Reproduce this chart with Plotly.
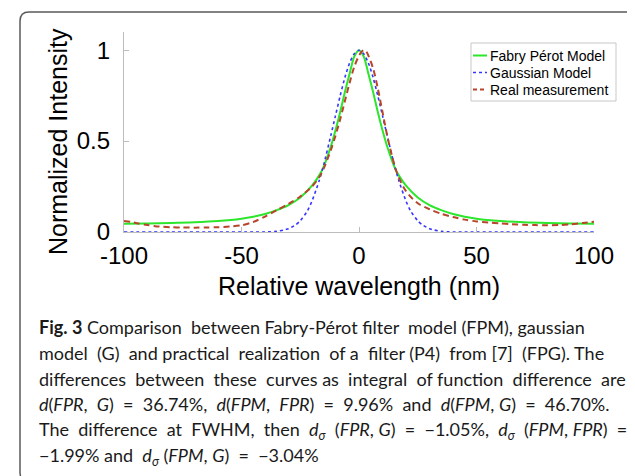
import plotly.graph_objects as go

# ---------------- data ----------------
fp_x = [-100, -90, -80, -70, -60, -50, -45, -40, -35, -30, -25, -20, -17, -15, -12, -10, -8, -6, -4, -2,
        0, 2, 4, 6, 8, 10, 12, 15, 17, 20, 25, 30, 35, 40, 45, 50, 60, 70, 80, 90, 100]
fp_y = [0.046, 0.047, 0.049, 0.053, 0.060, 0.073, 0.084, 0.099, 0.120, 0.148, 0.190, 0.255, 0.310, 0.360, 0.470,
        0.560, 0.660, 0.770, 0.870, 0.965, 1.000, 0.965, 0.870, 0.770, 0.660, 0.560, 0.470, 0.360, 0.310, 0.255,
        0.190, 0.148, 0.120, 0.099, 0.084, 0.073, 0.060, 0.053, 0.049, 0.047, 0.046]

g_x = [-100, -80, -60, -45, -40, -38, -35, -32, -30, -27, -25, -22, -20, -17, -15, -12, -10, -8, -6, -4, -2,
       0, 2, 4, 6, 8, 10, 12, 15, 17, 20, 22, 25, 27, 30, 32, 35, 38, 40, 45, 60, 80, 100]
g_y = [0.0, 0.0, 0.0, 0.0, 0.0, 0.001, 0.004, 0.011, 0.018, 0.039, 0.062, 0.115, 0.17, 0.28, 0.37, 0.53, 0.64,
       0.75, 0.85, 0.93, 0.98, 1.0, 0.98, 0.93, 0.85, 0.75, 0.64, 0.53, 0.37, 0.28, 0.17, 0.115, 0.062, 0.039,
       0.018, 0.011, 0.004, 0.001, 0.0, 0.0, 0.0, 0.0, 0.0]

rm_x = [-100, -97, -94, -90, -85, -80, -75, -70, -65, -60, -55, -50, -45, -40, -35, -30, -25, -20, -17, -15,
        -12, -10, -8, -6, -4, -2, 0, 1, 2, 3, 4, 6, 8, 10, 12, 14, 16, 18, 20, 23, 26, 30, 35, 40, 45, 50, 55,
        60, 65, 70, 75, 80, 85, 90, 95, 100]
rm_y = [0.060, 0.055, 0.047, 0.038, 0.030, 0.026, 0.025, 0.024, 0.025, 0.026, 0.030, 0.037, 0.055, 0.085,
        0.120, 0.155, 0.195, 0.250, 0.300, 0.350, 0.450, 0.530, 0.620, 0.720, 0.820, 0.910, 0.970, 0.990,
        1.000, 0.995, 0.970, 0.900, 0.790, 0.660, 0.530, 0.420, 0.330, 0.270, 0.225, 0.180, 0.150, 0.125,
        0.100, 0.082, 0.068, 0.058, 0.052, 0.047, 0.043, 0.040, 0.038, 0.037, 0.038, 0.042, 0.049, 0.057]

series_names = ["Fabry Pérot Model", "Gaussian Model", "Real measurement"]
x_ticks = [-100, -50, 0, 50, 100]
x_tick_labels = ["-100", "-50", "0", "50", "100"]
y_ticks = [0, 0.5, 1]
y_tick_labels = ["0", "0.5", "1"]

# "^" marks a widened (justified) word gap
caption_lines = [
    "<b>Fig. 3</b> Comparison^ between Fabry-Pérot filter^ model (FPM), gaussian",
    "model^ (G)^ and practical^ realization^ of a^ filter (P4)^ from [7]^ (FPG). The",
    "differences^ between^ these^ curves as^ integral^ of function^ difference^ are",
    "<i>d</i>(<i>FPR</i>,^ <i>G</i>)^ =^ 36.74%,^ <i>d</i>(<i>FPM</i>,^ <i>FPR</i>)^ =^ 9.96%^ and^ "
    "<i>d</i>(<i>FPM</i>, <i>G</i>)^ =^ 46.70%.",
    "The^ difference^ at^ FWHM,^ then^ <i>d<sub>σ</sub></i>^ (<i>FPR</i>, <i>G</i>)^ =^ −1.05%,^ "
    "<i>d<sub>σ</sub></i>^ (<i>FPM</i>, <i>FPR</i>)^ =",
    "−1.99% and^ <i>d<sub>σ</sub></i> (<i>FPM</i>, <i>G</i>)^ =^ −3.04%",
]
caption_lines = [s.replace("^", "\u00a0") for s in caption_lines]

# ---------------- layout geometry ----------------
W, H = 635, 476
L, R, T, B = 116, 49, 24, 252
PW, PH = W - L - R, H - T - B


def px(x):
    return (x - L) / PW


def py(y):
    return (H - B - y) / PH


GREEN = "#2BE62B"
BLUE = "#3535FF"
RED = "#B8452B"
AXIS = "#BDBDBD"
FONT = "Liberation Sans, Arial, sans-serif"

fig = go.Figure()
fig.add_trace(go.Scatter(x=fp_x, y=fp_y, mode="lines", name=series_names[0],
                         line=dict(color=GREEN, width=2, shape="spline", smoothing=0.8)))
fig.add_trace(go.Scatter(x=g_x, y=g_y, mode="lines", name=series_names[1],
                         line=dict(color=BLUE, width=1.6, dash="dot", shape="spline", smoothing=0.6)))
fig.add_trace(go.Scatter(x=rm_x, y=rm_y, mode="lines", name=series_names[2],
                         line=dict(color=RED, width=2, dash="6px,4px", shape="spline", smoothing=0.8)))

fig.update_layout(
    width=W, height=H,
    margin=dict(l=L, r=R, t=T, b=B, pad=0),
    paper_bgcolor="white", plot_bgcolor="white",
    showlegend=False,
    font=dict(family=FONT, color="black"),
    xaxis=dict(range=[-100, 100], tickvals=x_ticks, ticktext=x_tick_labels,
               showline=True, linecolor=AXIS, linewidth=1.2, mirror=False,
               ticks="inside", ticklen=5, tickcolor=AXIS, tickwidth=1,
               showgrid=False, zeroline=False, tickfont=dict(size=24, family=FONT),
               ticklabelstandoff=2),
    yaxis=dict(range=[0, 1.1], tickvals=y_ticks, ticktext=y_tick_labels,
               showline=True, linecolor=AXIS, linewidth=1.2, mirror=False,
               ticks="inside", ticklen=5, tickcolor=AXIS, tickwidth=1,
               showgrid=False, zeroline=False, tickfont=dict(size=24, family=FONT),
               ticklabelstandoff=8),
)

annotations = []
# axis titles
annotations.append(dict(text="Relative wavelength (nm)", x=px(351), y=py(278), xref="paper", yref="paper",
                        xanchor="center", yanchor="middle", showarrow=False,
                        font=dict(size=25, family=FONT)))
annotations.append(dict(text="Normalized Intensity", x=px(50), y=py(134), xref="paper", yref="paper",
                        xanchor="center", yanchor="middle", showarrow=False, textangle=-90,
                        font=dict(size=25, family=FONT)))

# custom legend (box, short samples, labels)
shapes = []
lg_x0, lg_x1, lg_y0, lg_y1 = 463, 608, 35, 93
shapes.append(dict(type="rect", xref="paper", yref="paper", x0=px(lg_x0), x1=px(lg_x1),
                   y0=py(lg_y1), y1=py(lg_y0), line=dict(color="#C8C8C8", width=1), fillcolor="white"))
rows = [47.5, 64.5, 81.5]
styles = [(GREEN, "solid", 2), (BLUE, "dot", 1.5), (RED, "4px,3px", 2)]
for name, ry, (col, dash, w) in zip(series_names, rows, styles):
    shapes.append(dict(type="line", xref="paper", yref="paper", x0=px(465), x1=px(479),
                       y0=py(ry), y1=py(ry), line=dict(color=col, width=w, dash=dash)))
    annotations.append(dict(text=name, x=px(480), y=py(ry), xref="paper", yref="paper",
                            xanchor="left", yanchor="middle", showarrow=False,
                            font=dict(size=14, family=FONT)))

# rounded figure frame
fl, ft, fb, fr, rad = 12, 4, 474, 650, 9
path = (f"M {px(fr)} {py(ft)} L {px(fl + rad)} {py(ft)} Q {px(fl)} {py(ft)} {px(fl)} {py(ft + rad)} "
        f"L {px(fl)} {py(fb - rad)} Q {px(fl)} {py(fb)} {px(fl + rad)} {py(fb)} L {px(fr)} {py(fb)}")
shapes.append(dict(type="path", path=path, xref="paper", yref="paper",
                   line=dict(color="#5A5A5A", width=1.5)))

# caption
cap_top, cap_step = 319, 25.8
for i, line in enumerate(caption_lines):
    annotations.append(dict(text=line, x=px(29), y=py(cap_top + i * cap_step), xref="paper", yref="paper",
                            xanchor="left", yanchor="middle", showarrow=False, align="left",
                            font=dict(size=18, family="Lato, sans-serif", color="#1a1a1a")))

fig.update_layout(annotations=annotations, shapes=shapes)
fig.write_html("out.html")
